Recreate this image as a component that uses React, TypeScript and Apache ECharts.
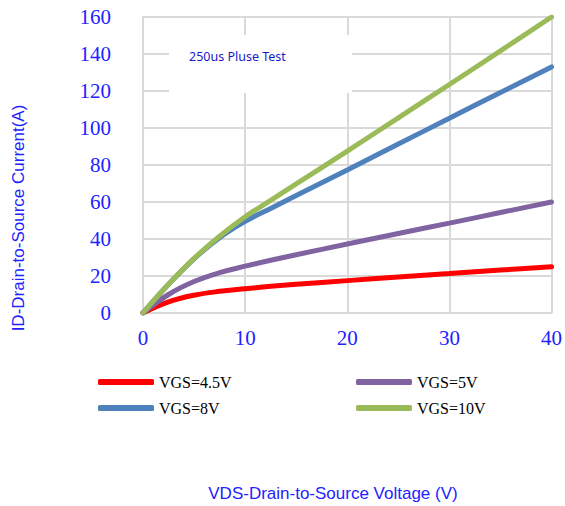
import React, { useEffect, useRef } from "react";
import * as echarts from "echarts";

const xValues = [0, 2.5, 5, 7.5, 10, 12.5, 15, 20, 25, 30, 35, 40];
const vgs45 = [0, 6, 9.6, 11.7, 13.1, 14.4, 15.5, 17.5, 19.4, 21.3, 23.2, 25];
const vgs5 = [0, 10, 17, 21.8, 25.3, 28.5, 31.5, 37.3, 43, 48.6, 54.3, 60];
const vgs8 = [0, 15.5, 29.3, 40.7, 49.5, 56.5, 63.5, 77.3, 91.3, 105.3, 119.2, 133];
const vgs10 = [0, 15.5, 29.5, 41.5, 52, 60.9, 69.8, 87.5, 105.5, 123.5, 141.7, 160];
const seriesNames = ["VGS=4.5V", "VGS=5V", "VGS=8V", "VGS=10V"];
const seriesColors = ["#ff0000", "#8064a2", "#4f81bd", "#9bbb59"];

const BLUE = "#2222ff";

export default function App() {
  const ref = useRef<HTMLDivElement>(null);
  useEffect(() => {
    const chart = echarts.init(ref.current!, undefined, { renderer: "svg" });
    const datas = [vgs45, vgs5, vgs8, vgs10];
    const legendText = {
      fontFamily: "Liberation Serif",
      fontSize: 16,
      color: "#000",
    };
    const legendBase = {
      orient: "vertical",
      top: 374,
      padding: 0,
      itemWidth: 56,
      itemHeight: 6,
      itemGap: 10,
      icon: "roundRect",
      textStyle: legendText,
    };
    chart.setOption({
      animation: false,
      grid: { left: 143, top: 17, right: 12, bottom: 193 },
      xAxis: {
        type: "value",
        min: 0,
        max: 40,
        interval: 10,
        axisLine: { show: true, lineStyle: { color: "#d9d9d9", width: 2 } },
        axisTick: { show: false },
        splitLine: { show: true, lineStyle: { color: "#d9d9d9", width: 2 } },
        axisLabel: {
          color: BLUE,
          fontFamily: "Liberation Serif",
          fontSize: 21,
          margin: 14,
        },
      },
      yAxis: {
        type: "value",
        min: 0,
        max: 160,
        interval: 20,
        axisLine: { show: true, lineStyle: { color: "#d9d9d9", width: 2 } },
        axisTick: { show: false },
        splitLine: { show: true, lineStyle: { color: "#d9d9d9", width: 2 } },
        axisLabel: {
          color: BLUE,
          fontFamily: "Liberation Serif",
          fontSize: 21,
          margin: 32,
        },
      },
      legend: [
        { ...legendBase, data: [seriesNames[0], seriesNames[2]], left: 98 },
        { ...legendBase, data: [seriesNames[1], seriesNames[3]], left: 356 },
      ],
      graphic: [
        {
          type: "rect",
          shape: { x: 169, y: 35, width: 183, height: 58 },
          style: { fill: "#ffffff" },
          z: 10,
        },
        {
          type: "text",
          x: 189,
          y: 56,
          z: 11,
          style: {
            text: "250us Pluse Test",
            fill: "#1a1acc",
            font: "12.5px 'Noto Sans'",
            textVerticalAlign: "middle",
          },
        },
        {
          type: "text",
          x: 18,
          y: 218,
          rotation: Math.PI / 2,
          style: {
            text: "ID-Drain-to-Source Current(A)",
            fill: BLUE,
            font: "17px 'Liberation Sans'",
            textAlign: "center",
            textVerticalAlign: "middle",
          },
        },
        {
          type: "text",
          x: 333,
          y: 493,
          style: {
            text: "VDS-Drain-to-Source Voltage (V)",
            fill: BLUE,
            font: "17px 'Liberation Sans'",
            textAlign: "center",
            textVerticalAlign: "middle",
          },
        },
      ],
      series: datas.map((d, i) => ({
        name: seriesNames[i],
        type: "line",
        smooth: 0.4,
        showSymbol: false,
        symbol: "none",
        color: seriesColors[i],
        lineStyle: { width: 5, color: seriesColors[i], cap: "round" },
        data: xValues.map((x, j) => [x, d[j]]),
        z: 3 + i,
      })),
    });
    return () => chart.dispose();
  }, []);
  return (
    <div
      ref={ref}
      style={{ position: "absolute", left: 0, top: 0, width: 565, height: 506 }}
    />
  );
}
